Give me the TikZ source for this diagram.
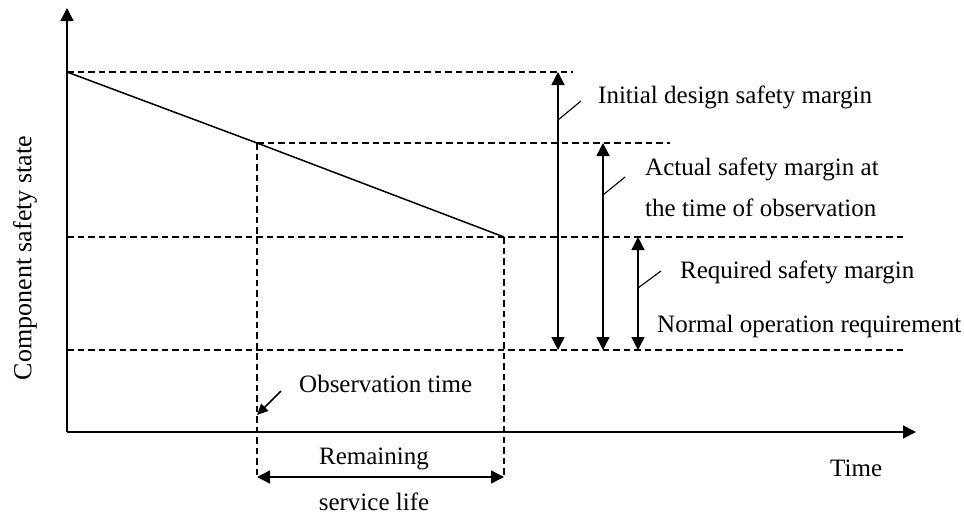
\documentclass[tikz,border=0pt]{standalone}
\usepackage{fontspec}
\setmainfont{Liberation Serif}
\usetikzlibrary{arrows.meta,positioning}

\begin{document}
\begin{tikzpicture}[x=1pt, y=-1pt, every node/.style={font=\fontsize{25}{25}\selectfont, inner sep=0pt},
    axisline/.style={line width=1.5pt, -{Triangle[length=13pt, width=13pt]}},
    spanline/.style={line width=1.5pt, {Triangle[length=13pt, width=13pt]}-{Triangle[length=13pt, width=13pt]}},
    guide/.style={line width=1.2pt, dash pattern=on 6.5pt off 4pt},
    leader/.style={line width=1.1pt}]
        \useasboundingbox (0,0) rectangle (964,514);
        % axes
        \coordinate (origin) at (67,432);
        \coordinate (ytip) at (67,8);
        \coordinate (xtip) at (916,432);
        \draw[axisline] (origin) -- (ytip);
        \draw[axisline] (origin) -- (xtip);
        \node[rotate=90, font=\fontsize{26}{26}\selectfont] (ylabel) at (25,258) {Component safety state};
        \node[anchor=base west] (xlabel) at (830,476) {Time};
        % safety state decline
        \coordinate (initial) at (67,72);
        \coordinate (observed) at (257,143);
        \coordinate (limit) at (504,237);
        \draw[line width=1.5pt] (initial) -- (observed) -- (limit);
        % guide lines
        \coordinate (initialend) at (573,72);
        \coordinate (observedend) at (670,143);
        \coordinate (limitstart) at (67,237);
        \coordinate (limitend) at (905,237);
        \coordinate (normalstart) at (67,350);
        \coordinate (normalend) at (905,350);
        \coordinate (obsfoot) at (257,477);
        \coordinate (limitfoot) at (504,477);
        \draw[guide] (initial) -- (initialend);
        \draw[guide] (observed) -- (observedend);
        \draw[guide] (limitstart) -- (limitend);
        \draw[guide] (normalstart) -- (normalend);
        \draw[guide] (observed) -- (obsfoot);
        \draw[guide] (limit) -- (limitfoot);
        % margins
        \coordinate (designtop) at (558,72);
        \coordinate (designbot) at (558,350);
        \coordinate (actualtop) at (603,143);
        \coordinate (actualbot) at (603,350);
        \coordinate (requiredtop) at (638,237);
        \coordinate (requiredbot) at (638,350);
        \draw[spanline] (designtop) -- (designbot);
        \draw[spanline] (actualtop) -- (actualbot);
        \draw[spanline] (requiredtop) -- (requiredbot);
        \draw[spanline] (obsfoot) -- (limitfoot);
        % labels
        \node[anchor=base west] (design) at (598,103) {Initial design safety margin};
        \node[anchor=base west, align=left] (actual) at (645,216) {Actual safety margin at\\[16pt]the time of observation};
        \node[anchor=base west] (required) at (680,278) {Required safety margin};
        \node[anchor=base west] (normal) at (657,332) {Normal operation requirement};
        \node[anchor=base west] (obstime) at (299,392) {Observation time};
        \node[anchor=base] (remaining) at (374,464) {Remaining};
        \node[anchor=base] (service) at (374,510) {service life};
        % leaders
        \coordinate (designtick) at (581,101);
        \coordinate (actualtick) at (625,177);
        \coordinate (requiredtick) at (661,271);
        \coordinate (obstail) at (281,391);
        \coordinate (obshead) at (257,415);
        \draw[leader] (558,120) -- (designtick);
        \draw[leader] (603,195) -- (actualtick);
        \draw[leader] (638,288) -- (requiredtick);
        \draw[line width=1.5pt, -{Triangle[length=11pt, width=10pt]}] (obstail) -- (obshead);
      \end{tikzpicture}
\end{document}
